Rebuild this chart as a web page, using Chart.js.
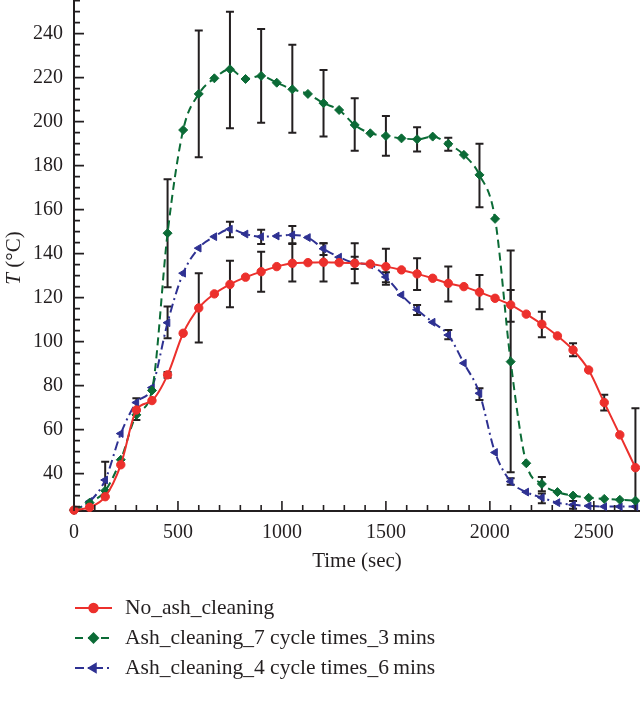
<!DOCTYPE html>
<html>
<head>
<meta charset="utf-8">
<script src="https://cdn.jsdelivr.net/npm/chart.js@4.4.1/dist/chart.umd.min.js"></script>
<style>
  body { margin: 0; background: #fff; }
  canvas { display: block; }
</style>
</head>
<body>
<canvas id="tempChart" width="640" height="701"></canvas>
<script>
// time steps (sec)
const times = [0, 75, 150, 225, 300, 375, 450, 525, 600, 675, 750, 825, 900, 975, 1050, 1125, 1200, 1275, 1350,
  1425, 1500, 1575, 1650, 1725, 1800, 1875, 1950, 2025, 2100, 2175, 2250, 2325, 2400, 2475, 2550, 2625, 2700];

// temperature (°C)
const noAsh = [23.4, 24.7, 29.5, 44, 68.9, 73.2, 84.9, 103.8, 115.3, 121.7, 126, 129.3, 131.8, 134.1, 135.6, 135.9, 136.1, 135.9, 135.6,
  135.3, 134.1, 132.6, 130.8, 128.8, 126.5, 125, 122.5, 119.7, 116.7, 112.5, 107.9, 102.6, 96.2, 87.1, 72.3, 57.6, 42.7];
const ash7 = [23.4, 26.8, 32.2, 46.3, 66.7, 77.8, 149.3, 196.2, 212.6, 219.7, 223.8, 219.4, 220.8, 217.7, 214.7, 212.6, 208.4, 205.3, 198.5,
  194.7, 193.5, 192.4, 192, 193.2, 189.9, 184.9, 175.8, 155.8, 90.9, 44.7, 35.3, 31.6, 30, 29, 28.5, 28.1, 27.7];
const ash4 = [23.4, 27.3, 37.1, 58.2, 72.3, 79.1, 108.6, 131.1, 142.5, 147.7, 151.1, 148.9, 147.7, 148, 148.5, 147.3, 142.2, 138.4, 135.8,
  134.9, 129.4, 121.2, 114.5, 108.8, 103, 90.2, 76.5, 49.6, 36.4, 31.6, 29.1, 26.8, 25.8, 25.3, 25, 25, 25];

// error bars: time, low, high
const noAshErrT = [300, 450, 600, 750, 900, 1050, 1200, 1350, 1500, 1650, 1800, 1950, 2100, 2250, 2400, 2550, 2700];
const noAshErrLo = [64.4, 83.6, 99.6, 115.6, 122.7, 127.3, 127.3, 126.5, 125.8, 123.5, 118.2, 114.7, 109, 102, 93.3, 68.7, 15.7];
const noAshErrHi = [74.3, 86.2, 131.1, 136.8, 140.9, 144.7, 144.7, 144.7, 142.2, 137.9, 134.1, 130.3, 123.5, 113.6, 99.3, 75.8, 69.7];
const ash7ErrT = [450, 600, 750, 900, 1050, 1200, 1350, 1500, 1650, 1800, 1950, 2100, 2250];
const ash7ErrLo = [124.7, 183.8, 197, 199.5, 195, 193.2, 186.8, 184.5, 186.4, 186.8, 161.1, 40.6, 32];
const ash7ErrHi = [173.8, 241.4, 250, 242.1, 234.9, 223.5, 210.6, 202.6, 197.4, 192.7, 189.9, 141.4, 38.5];
const ash4ErrT = [150, 450, 750, 900, 1050, 1200, 1350, 1500, 1650, 1800, 1950, 2100, 2250, 2400];
const ash4ErrLo = [29.5, 101.5, 147.5, 144.4, 144.4, 139.4, 133, 127, 112.1, 101.1, 73.5, 34.9, 26.5, 24];
const ash4ErrHi = [45.4, 116, 154.5, 150.8, 152.6, 144.7, 138.6, 131.5, 116.7, 105.3, 78.8, 37.9, 31, 27.6];

const xTicks = [0, 500, 1000, 1500, 2000, 2500];
const yTicks = [40, 60, 80, 100, 120, 140, 160, 180, 200, 220, 240];

const seriesNames = ['No_ash_cleaning', 'Ash_cleaning_7 cycle times_3\u2009mins', 'Ash_cleaning_4 cycle times_6\u2009mins'];

const INK = '#231f20';
const RED = '#ec302c';
const GREEN = '#0b6b36';
const BLUE = '#2e3192';
const SERIF = "'Liberation Serif', 'DejaVu Serif', serif";

function pts(vals) {
  return times.map(function(t, i) { return { x: t, y: vals[i] }; });
}

// black error bars, drawn under the markers
const errorBars = {
  id: 'errorBars',
  beforeDatasetsDraw(chart) {
    const { ctx, chartArea, scales: { x, y } } = chart;
    const sets = [[noAshErrT, noAshErrLo, noAshErrHi], [ash7ErrT, ash7ErrLo, ash7ErrHi], [ash4ErrT, ash4ErrLo, ash4ErrHi]];
    ctx.save();
    ctx.strokeStyle = INK;
    ctx.lineWidth = 2;
    sets.forEach(function(s) {
      s[0].forEach(function(t, i) {
        const px = x.getPixelForValue(t);
        let yLo = y.getPixelForValue(s[1][i]);
        const yHi = y.getPixelForValue(s[2][i]);
        let capLo = true;
        if (yLo > chartArea.bottom) { yLo = chartArea.bottom; capLo = false; }
        ctx.beginPath();
        ctx.moveTo(px, yLo); ctx.lineTo(px, yHi);
        ctx.moveTo(px - 4, yHi); ctx.lineTo(px + 4, yHi);
        if (capLo) { ctx.moveTo(px - 4, yLo); ctx.lineTo(px + 4, yLo); }
        ctx.stroke();
      });
    });
    ctx.restore();
  }
};

// inward tick marks, axis title with italic T, legend under the plot
const decorations = {
  id: 'decorations',
  afterDraw(chart) {
    const { ctx, chartArea, scales: { x, y } } = chart;
    ctx.save();
    ctx.strokeStyle = INK;
    ctx.lineWidth = 1.6;
    ctx.beginPath();
    for (let v = 0; v <= x.max; v += 100) {
      const px = x.getPixelForValue(v);
      const len = v % 500 === 0 ? 10 : 6;
      ctx.moveTo(px, chartArea.bottom); ctx.lineTo(px, chartArea.bottom - len);
    }
    for (let v = 25; v <= y.max; v += 5) {
      const py = y.getPixelForValue(v);
      const len = v % 20 === 0 ? 10 : 6;
      ctx.moveTo(chartArea.left, py); ctx.lineTo(chartArea.left + len, py);
    }
    ctx.stroke();

    // y title
    ctx.translate(14, 258);
    ctx.rotate(-Math.PI / 2);
    ctx.fillStyle = INK;
    ctx.textBaseline = 'middle';
    ctx.font = 'italic 21px ' + SERIF;
    const wT = ctx.measureText('T').width;
    ctx.font = '21px ' + SERIF;
    const rest = ' (\u00B0C)';
    const wR = ctx.measureText(rest).width;
    const start = -(wT + wR) / 2;
    ctx.font = 'italic 21px ' + SERIF;
    ctx.fillText('T', start, 0);
    ctx.font = '21px ' + SERIF;
    ctx.fillText(rest, start + wT, 0);
    ctx.restore();

    // legend
    const rows = [608, 638, 668];
    ctx.save();
    chart.data.datasets.forEach(function(ds, i) {
      const yy = rows[i];
      ctx.strokeStyle = ds.borderColor;
      ctx.lineWidth = 2;
      ctx.setLineDash(ds.borderDash || []);
      ctx.beginPath();
      ctx.moveTo(75, yy); ctx.lineTo(112, yy);
      ctx.stroke();
      ctx.setLineDash([]);
      ctx.fillStyle = ds.pointBackgroundColor;
      Chart.helpers.drawPoint(ctx, {
        pointStyle: ds.pointStyle, radius: ds.pointRadius, rotation: ds.pointRotation || 0, borderWidth: 1
      }, 93.5, yy);
      ctx.fillStyle = INK;
      ctx.font = '21.5px ' + SERIF;
      ctx.textBaseline = 'middle';
      ctx.fillText(ds.label, 125, yy);
    });
    ctx.restore();
  }
};

new Chart(document.getElementById('tempChart').getContext('2d'), {
  type: 'line',
  data: {
    datasets: [
      {
        label: seriesNames[0], data: pts(noAsh),
        borderColor: RED, backgroundColor: RED, pointBackgroundColor: RED, pointBorderColor: RED,
        borderWidth: 2, pointStyle: 'circle', pointRadius: 4.2, pointBorderWidth: 1,
        cubicInterpolationMode: 'monotone', clip: false
      },
      {
        label: seriesNames[1], data: pts(ash7),
        borderColor: GREEN, backgroundColor: GREEN, pointBackgroundColor: GREEN, pointBorderColor: GREEN,
        borderWidth: 2, borderDash: [8, 5], pointStyle: 'rectRot', pointRadius: 4.5, pointBorderWidth: 1,
        cubicInterpolationMode: 'monotone', clip: false
      },
      {
        label: seriesNames[2], data: pts(ash4),
        borderColor: BLUE, backgroundColor: BLUE, pointBackgroundColor: BLUE, pointBorderColor: BLUE,
        borderWidth: 2, borderDash: [9, 4, 2, 4], pointStyle: 'triangle', pointRotation: -90, pointRadius: 4.5, pointBorderWidth: 1,
        cubicInterpolationMode: 'monotone', clip: false
      }
    ]
  },
  options: {
    responsive: false,
    animation: false,
    layout: { autoPadding: false, padding: { left: 0, right: 0, top: 0, bottom: 127 } },
    plugins: { legend: { display: false }, tooltip: { enabled: false } },
    scales: {
      x: {
        type: 'linear', min: 0, max: 2722,
        afterBuildTicks: function(s) { s.ticks = xTicks.map(function(v) { return { value: v }; }); },
        afterFit: function(s) { s.height = 63; s.paddingLeft = 0; s.paddingRight = 0; },
        grid: { display: false, drawTicks: false },
        border: { display: true, color: INK, width: 2 },
        ticks: { color: INK, font: { family: SERIF, size: 20 }, padding: 10, maxRotation: 0,
          callback: function(v) { return String(v); } },
        title: { display: true, text: 'Time (sec)', color: INK, font: { family: SERIF, size: 21 }, padding: { top: 0, bottom: 0 } }
      },
      y: {
        type: 'linear', min: 23, max: 255.3,
        afterBuildTicks: function(s) { s.ticks = yTicks.map(function(v) { return { value: v }; }); },
        afterFit: function(s) { s.width = 74; s.paddingTop = 0; s.paddingBottom = 0; },
        grid: { display: false, drawTicks: false },
        border: { display: true, color: INK, width: 2 },
        ticks: { color: INK, font: { family: SERIF, size: 20 }, padding: 11,
          callback: function(v) { return String(v); } }
      }
    }
  },
  plugins: [errorBars, decorations]
});
</script>
</body>
</html>
